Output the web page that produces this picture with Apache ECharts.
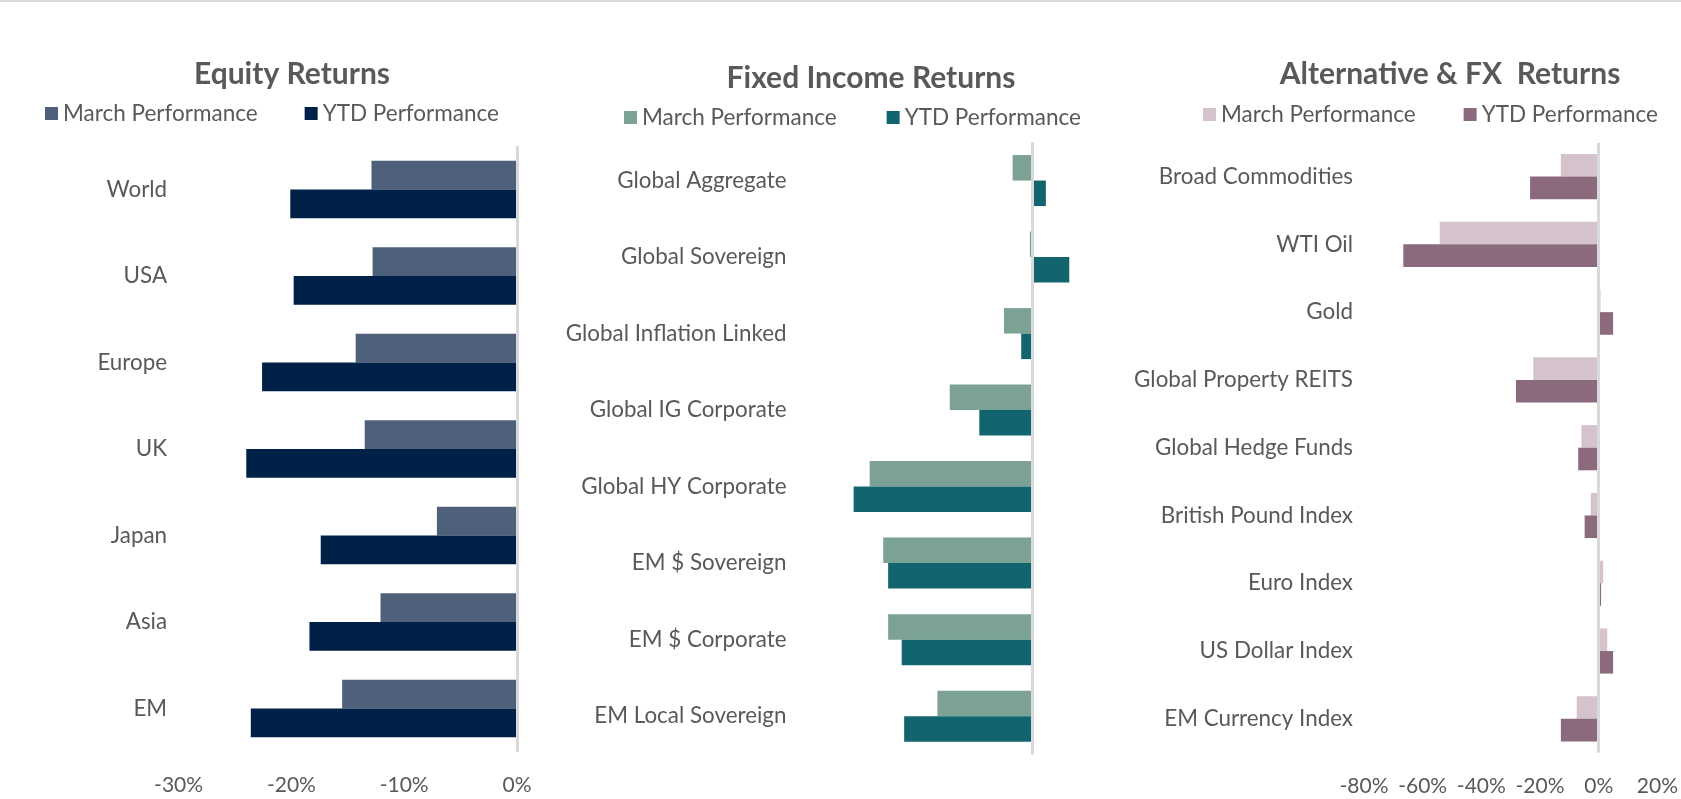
<!DOCTYPE html>
<html><head><meta charset="utf-8">
<script src="https://cdn.jsdelivr.net/npm/echarts@6/dist/echarts.min.js"></script>
<style>html,body{margin:0;padding:0;background:#fff}#c{width:1681px;height:799px}</style>
</head><body><div id="c"></div>
<script>
// ---- data ----
const equityCategories = ['World','USA','Europe','UK','Japan','Asia','EM'];
const equityMarch = [-12.9,-12.8,-14.3,-13.5,-7.1,-12.1,-15.5];
const equityYTD = [-20.1,-19.8,-22.6,-24.0,-17.4,-18.4,-23.6];

const fiCategories = ['Global Aggregate','Global Sovereign','Global Inflation Linked','Global IG Corporate','Global HY Corporate','EM $ Sovereign','EM $ Corporate','EM Local Sovereign'];
const fiMarch = [-1.6,-0.2,-2.3,-6.7,-13.2,-12.1,-11.7,-7.7];
const fiYTD = [1.1,3.0,-0.9,-4.3,-14.5,-11.7,-10.6,-10.4];

const altCategories = ['Broad Commodities','WTI Oil','Gold','Global Property REITS','Global Hedge Funds','British Pound Index','Euro Index','US Dollar Index','EM Currency Index'];
const altMarch = [-12.9,-54.2,0.6,-22.3,-5.9,-2.7,1.5,2.9,-7.5];
const altYTD = [-23.4,-66.6,4.9,-28.2,-7.0,-4.8,0.8,4.9,-12.9];

const titles = ['Equity Returns','Fixed Income Returns','Alternative & FX  Returns'];
const seriesNames = ['March Performance','YTD Performance'];
const equityAxis = {min:-30, max:0, interval:10};
const fiAxis = {min:-18, max:4, interval:2};
const altAxis = {min:-80, max:20, interval:20};

// ---- style ----
const FONT = 'Lato';
const TXT = '#595959';
const colors = [['#4e607a','#002147'],['#7ca295','#12646f'],['#d4c3cc','#8c6a7d']];

const chart = echarts.init(document.getElementById('c'), null, {renderer:'canvas'});

function yAxis(i, cats, margin){
  return {type:'category', gridIndex:i, data:cats, inverse:true,
    axisLine:{show:false}, axisTick:{show:false}, splitLine:{show:false},
    axisLabel:{color:TXT, fontFamily:FONT, fontSize:22.4, margin:margin}};
}
function xAxis(i, ax, show){
  return {type:'value', gridIndex:i, min:ax.min, max:ax.max, interval:ax.interval, show:show,
    axisLine:{show:false}, axisTick:{show:false}, splitLine:{show:false},
    axisLabel:{color:TXT, fontFamily:FONT, fontSize:21, margin:23, formatter:'{value}%'}};
}
function bars(i, name, data, color, line){
  const s = {type:'bar', name:name, xAxisIndex:i, yAxisIndex:i, data:data,
    barGap:'0%', barCategoryGap:'33.33%', itemStyle:{color:color}, silent:true};
  if(line){
    s.markLine = {silent:true, symbol:'none', label:{show:false},
      lineStyle:{color:'#d9d9d9', width:3, type:'solid'}, data:[{xAxis:0}]};
  }
  return s;
}
function legend(i, left, top, gap){
  return {left:left, top:top, padding:0, itemWidth:13, itemHeight:13, itemGap:gap, icon:'rect',
    selectedMode:false, textStyle:{color:TXT, fontFamily:FONT, fontSize:22.5},
    data:[{name:seriesNames[0], itemStyle:{color:colors[i][0]}},{name:seriesNames[1], itemStyle:{color:colors[i][1]}}]};
}
function title(i, x, top){
  return {text:titles[i], left:x, top:top, textAlign:'center', padding:0,
    textStyle:{color:TXT, fontFamily:FONT, fontSize:30, fontWeight:'bold'}};
}

chart.setOption({
  animation:false,
  backgroundColor:'#fff',
  graphic:[{type:'rect', shape:{x:0,y:0,width:1681,height:2}, style:{fill:'#d9d9d9'}, silent:true}],
  title:[title(0,292,59.5), title(1,871,63), title(2,1450,59.5)],
  legend:[legend(0,45,102,47), legend(1,624,106,50), legend(2,1203,103,48)],
  grid:[
    {left:178.6, right:1681-517, top:146.3, bottom:799-751.7, containLabel:false},
    {left:810.5, right:1681-1081.6, top:142.3, bottom:799-754.4, containLabel:false},
    {left:1364, right:1681-1657.7, top:142.7, bottom:799-752.7, containLabel:false}
  ],
  xAxis:[xAxis(0,equityAxis,true), xAxis(1,fiAxis,false), xAxis(2,altAxis,true)],
  yAxis:[yAxis(0,equityCategories,11.5), yAxis(1,fiCategories,24), yAxis(2,altCategories,11)],
  series:[
    bars(0,seriesNames[0],equityMarch,colors[0][0],false),
    bars(0,seriesNames[1],equityYTD,colors[0][1],true),
    bars(1,seriesNames[0],fiMarch,colors[1][0],false),
    bars(1,seriesNames[1],fiYTD,colors[1][1],true),
    bars(2,seriesNames[0],altMarch,colors[2][0],false),
    bars(2,seriesNames[1],altYTD,colors[2][1],true)
  ]
});
</script></body></html>
